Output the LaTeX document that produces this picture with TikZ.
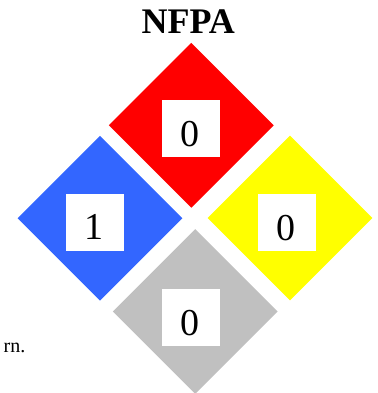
\documentclass[tikz,border=0pt]{standalone}
\usepackage{fontspec}
\setmainfont{Liberation Serif}
\usetikzlibrary{shapes.geometric}
\definecolor{nfred}{HTML}{FF0000}
\definecolor{nfblue}{HTML}{3366FF}
\definecolor{nfyellow}{HTML}{FFFF00}
\definecolor{nfgray}{HTML}{C0C0C0}
\begin{document}
\begin{tikzpicture}[x=1pt,y=-1pt,
  panel/.style={diamond,draw=none,inner sep=0pt,minimum width=165pt,minimum height=165pt},
  numbox/.style={fill=white,draw=none,inner sep=0pt,minimum width=58pt,minimum height=57pt},
  digit/.style={font=\fontsize{38}{40}\selectfont,inner sep=0pt,anchor=base}]
\useasboundingbox (0,0) rectangle (377,393);
\node[panel,fill=nfred] (red) at (191.3,125.3) {};
\node[panel,fill=nfblue] (blue) at (100,218.2) {};
\node[panel,fill=nfyellow] (yellow) at (290,218) {};
\node[panel,fill=nfgray] (gray) at (195.3,311.5) {};
\node[numbox] (redbox) at (190.7,128.3) {};
\node[numbox] (bluebox) at (95,222.3) {};
\node[numbox] (yellowbox) at (287,222.3) {};
\node[numbox] (graybox) at (190.8,317.3) {};
\node[digit] (redtxt) at (190.2,146) {0};
\node[digit] (bluetxt) at (94.2,239.5) {1};
\node[digit] (yellowtxt) at (286,240) {0};
\node[digit] (graytxt) at (190.2,335) {0};
\node[font=\bfseries\fontsize{36}{40}\selectfont,inner sep=0pt,anchor=base] (title) at (188.3,33.3) {NFPA};
\node[font=\fontsize{20}{24}\selectfont,inner sep=0pt,anchor=base east] (note) at (25.5,352) {rn.};
\end{tikzpicture}
\end{document}
